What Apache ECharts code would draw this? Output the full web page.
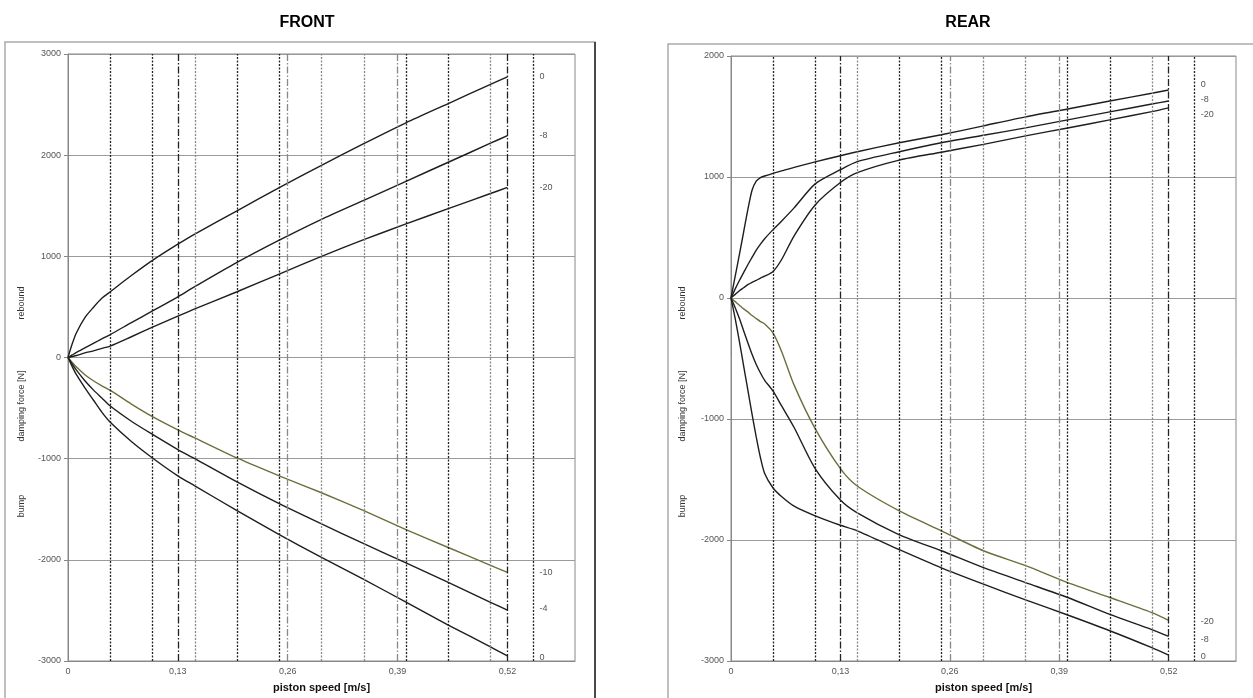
<!DOCTYPE html>
<html>
<head>
<meta charset="utf-8">
<title>damping force</title>
<script src="https://cdn.jsdelivr.net/npm/echarts/dist/echarts.min.js"></script>
<style>
html, body { margin: 0; padding: 0; background: #fff; }
#chart { width: 1253px; height: 698px; }
</style>
</head>
<body>
<div id="chart"></div>
<script>
// piston speed samples [m/s]
const frontSpeed = [0, 0.005, 0.01, 0.02, 0.03, 0.04, 0.05, 0.075, 0.1, 0.13, 0.15, 0.2, 0.25, 0.3, 0.35, 0.4, 0.45, 0.5, 0.52];
const rearSpeed = [0, 0.005, 0.01, 0.015, 0.02, 0.025, 0.03, 0.035, 0.04, 0.05, 0.06, 0.075, 0.1, 0.13, 0.15, 0.2, 0.25, 0.3, 0.35, 0.4, 0.45, 0.5, 0.52];

// FRONT damping force [N]
const frontReb0 = [0, 135, 245, 395, 495, 585, 650, 810, 960, 1120, 1220, 1450, 1680, 1900, 2114, 2320, 2510, 2700, 2773];
const frontReb8 = [0, 25, 50, 95, 140, 185, 227, 345, 460, 600, 700, 940, 1160, 1366, 1554, 1742, 1930, 2118, 2193];
const frontReb20 = [0, 10, 20, 45, 65, 90, 113, 205, 300, 408, 480, 650, 825, 1000, 1165, 1320, 1472, 1621, 1681];
const frontBump10 = [0, -50, -95, -170, -230, -280, -325, -460, -584, -715, -795, -993, -1170, -1337, -1514, -1701, -1878, -2055, -2124];
const frontBump4 = [0, -65, -125, -230, -320, -400, -480, -630, -760, -910, -1000, -1230, -1445, -1645, -1840, -2030, -2222, -2420, -2497];
const frontBump0 = [0, -90, -170, -300, -420, -540, -640, -830, -993, -1170, -1268, -1514, -1750, -1976, -2193, -2419, -2645, -2860, -2950];

// REAR damping force [N]
const rearReb0 = [0, 180, 360, 545, 730, 890, 965, 995, 1008, 1030, 1050, 1080, 1125, 1176, 1209, 1283, 1349, 1423, 1497, 1562, 1628, 1692, 1719];
const rearReb8 = [0, 75, 145, 210, 275, 335, 395, 445, 490, 565, 635, 745, 943, 1060, 1127, 1209, 1283, 1345, 1406, 1472, 1538, 1603, 1628];
const rearReb20 = [0, 30, 60, 85, 110, 130, 145, 165, 180, 220, 316, 514, 769, 954, 1036, 1140, 1205, 1270, 1340, 1405, 1472, 1540, 1571];
const rearBump20 = [0, -30, -60, -90, -115, -145, -170, -195, -215, -290, -440, -720, -1080, -1410, -1554, -1760, -1924, -2089, -2212, -2352, -2475, -2600, -2664];
const rearBump8 = [0, -80, -170, -270, -370, -465, -550, -620, -680, -770, -890, -1070, -1410, -1670, -1776, -1957, -2089, -2229, -2352, -2475, -2615, -2740, -2796];
const rearBump0 = [0, -170, -360, -560, -760, -960, -1150, -1320, -1450, -1570, -1640, -1720, -1800, -1878, -1924, -2080, -2230, -2365, -2495, -2620, -2750, -2890, -2952];

// reference lines on the speed axis
const darkDotted = [0.05, 0.1, 0.2, 0.25, 0.4, 0.45, 0.55];
const grayDotted = [0.15, 0.3, 0.35, 0.5];
const darkDashDot = [0.13, 0.52];
const grayDashDot = [0.26, 0.39];

const speedTicks = [0, 0.13, 0.26, 0.39, 0.52];

const chart = echarts.init(document.getElementById('chart'));
const font = 'Liberation Sans, Arial, sans-serif';

function pairs(xs, ys) {
  return xs.map((x, i) => [x, ys[i]]);
}

function curve(label, xs, ys, idx, color, offset) {
  return {
    type: 'line',
    name: label,
    xAxisIndex: idx,
    yAxisIndex: idx,
    data: pairs(xs, ys),
    symbol: 'none',
    smooth: 0.25,
    silent: true,
    lineStyle: { color: color, width: 1.4 },
    endLabel: {
      show: true,
      formatter: () => label,
      distance: 32,
      offset: offset || [0, 0],
      color: '#555',
      fontSize: 9,
      fontFamily: font
    }
  };
}

function refLines() {
  const dotted = [2, 1.5];
  const dashDot = [7, 2, 1.5, 2];
  const mk = (v, color, type) => ({ xAxis: v, lineStyle: { color: color, type: type, width: 1.3 } });
  return {
    silent: true,
    symbol: ['none', 'none'],
    label: { show: false },
    animation: false,
    data: [].concat(
      darkDotted.map(v => mk(v, '#222', dotted)),
      grayDotted.map(v => mk(v, '#888', dotted)),
      darkDashDot.map(v => mk(v, '#222', dashDot)),
      grayDashDot.map(v => mk(v, '#888', dashDot))
    )
  };
}

function xAxis(idx) {
  return {
    gridIndex: idx,
    type: 'value',
    min: 0,
    max: 0.6,
    interval: 0.13,
    axisLine: { show: true, onZero: false, lineStyle: { color: '#888' } },
    axisTick: { show: false },
    splitLine: { show: false },
    axisLabel: {
      showMaxLabel: false,
      fontSize: 9,
      color: '#555',
      margin: 6,
      fontFamily: font,
      formatter: v => {
        const t = speedTicks.find(s => Math.abs(s - v) < 1e-6);
        if (t === undefined) return '';
        return t === 0 ? '0' : t.toFixed(2).replace('.', ',');
      }
    },
    name: 'piston speed [m/s]',
    nameLocation: 'middle',
    nameGap: 21,
    nameTextStyle: { fontWeight: 'bold', fontSize: 11, color: '#111', fontFamily: font }
  };
}

function yAxis(idx, min, max) {
  return {
    gridIndex: idx,
    type: 'value',
    min: min,
    max: max,
    interval: 1000,
    axisLine: { show: true, onZero: false, lineStyle: { color: '#888' } },
    axisTick: { show: true, length: 4, lineStyle: { color: '#888' } },
    splitLine: { lineStyle: { color: '#9a9a9a', width: 1 } },
    axisLabel: { fontSize: 9, color: '#555', margin: 7, fontFamily: font, formatter: v => String(v) }
  };
}

function sideText(x, y, text) {
  return {
    type: 'text',
    x: x,
    y: y,
    rotation: Math.PI / 2,
    style: { text: text, fontSize: 9, fill: '#333', fontFamily: font, align: 'center', verticalAlign: 'middle' }
  };
}

const olive = '#6e6e3c';
const dark = '#1e1e1e';

let front = [
  curve('0', frontSpeed, frontReb0, 0, dark),
  curve('-8', frontSpeed, frontReb8, 0, dark),
  curve('-20', frontSpeed, frontReb20, 0, dark),
  curve('-10', frontSpeed, frontBump10, 0, olive),
  curve('-4', frontSpeed, frontBump4, 0, dark, [0, -2]),
  curve('0', frontSpeed, frontBump0, 0, dark, [0, 2])
];
front[0].markLine = refLines();

let rear = [
  curve('0', rearSpeed, rearReb0, 1, dark, [0, -5]),
  curve('-8', rearSpeed, rearReb8, 1, dark, [0, -1]),
  curve('-20', rearSpeed, rearReb20, 1, dark, [0, 7]),
  curve('-20', rearSpeed, rearBump20, 1, olive, [0, 1]),
  curve('-8', rearSpeed, rearBump8, 1, dark, [0, 3]),
  curve('0', rearSpeed, rearBump0, 1, dark, [0, 1])
];
rear[0].markLine = refLines();

let option = {
  animation: false,
  backgroundColor: '#fff',
  textStyle: { fontFamily: font },
  title: [
    { text: 'FRONT', left: 302, top: 10, textAlign: 'center', textStyle: { fontSize: 16, fontWeight: 'bold', color: '#000', fontFamily: font } },
    { text: 'REAR', left: 963, top: 10, textAlign: 'center', textStyle: { fontSize: 16, fontWeight: 'bold', color: '#000', fontFamily: font } }
  ],
  grid: [
    { left: 68, top: 54, width: 507, height: 610, show: true, borderColor: '#888', borderWidth: 1 },
    { left: 731, top: 56, width: 505, height: 608, show: true, borderColor: '#888', borderWidth: 1 }
  ],
  xAxis: [xAxis(0), xAxis(1)],
  yAxis: [yAxis(0, -3000, 3000), yAxis(1, -3000, 2000)],
  graphic: [
    // outer frames
    { type: 'rect', shape: { x: 5, y: 42, width: 590, height: 670 }, style: { fill: 'none', stroke: '#aaa', lineWidth: 1.5 }, silent: true },
    { type: 'line', shape: { x1: 595, y1: 42, x2: 595, y2: 698 }, style: { stroke: '#222', lineWidth: 1.5 }, silent: true },
    { type: 'rect', shape: { x: 668, y: 44, width: 620, height: 670 }, style: { fill: 'none', stroke: '#aaa', lineWidth: 1.5 }, silent: true },
    sideText(22, 303, 'rebound'),
    sideText(22, 406, 'damping force [N]'),
    sideText(22, 506, 'bump'),
    sideText(683, 303, 'rebound'),
    sideText(683, 406, 'damping force [N]'),
    sideText(683, 506, 'bump')
  ],
  series: front.concat(rear)
};

option && chart.setOption(option);
</script>
</body>
</html>
